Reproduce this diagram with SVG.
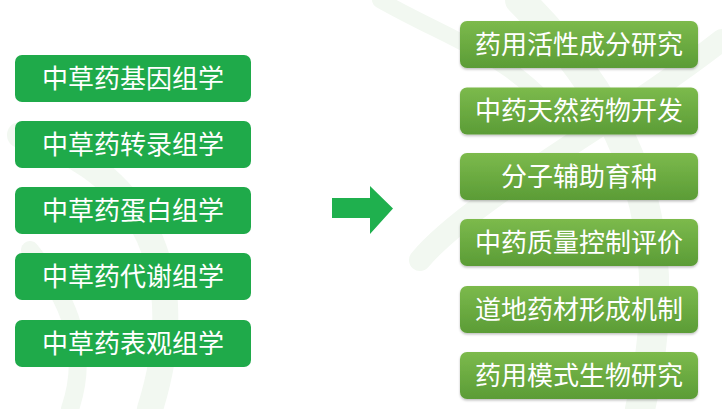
<svg xmlns="http://www.w3.org/2000/svg" width="722" height="409" viewBox="0 0 722 409">
<defs>
<linearGradient id="gR" x1="0" y1="0" x2="0" y2="1">
<stop offset="0" stop-color="#7cba4c"/>
<stop offset="1" stop-color="#5b9c36"/>
</linearGradient>
<filter id="sh" x="-5%" y="-10%" width="110%" height="130%">
<feDropShadow dx="0" dy="1.5" stdDeviation="1.2" flood-color="#000" flood-opacity="0.25"/>
</filter>
<style>
.l{fill:#1faa4a;}
.r{fill:url(#gR);filter:url(#sh);}
.t{font-family:"Noto Sans CJK SC","Noto Sans",sans-serif;font-size:26px;fill:#fff;text-anchor:middle;}
.wm{fill:none;stroke:#f2f8f1;stroke-linecap:round;}
</style>
</defs>
<rect width="722" height="409" fill="#fff"/>
<g id="watermark">
<path class="wm" stroke-width="26" d="M20 135 C120 160 200 250 150 409"/>
<path class="wm" stroke-width="18" d="M30 250 C70 300 90 350 70 409"/>
<path class="wm" stroke-width="30" d="M520 0 C600 80 690 200 640 409"/>
<path class="wm" stroke-width="22" d="M722 40 C620 120 470 200 420 260"/>
<path class="wm" stroke-width="16" d="M380 0 C450 40 520 60 560 120"/>
</g>
<g id="left">
<g id="n1"><rect class="l" x="15" y="55" width="236" height="47" rx="7"/><text class="t" x="133" y="87.5">中草药基因组学</text></g>
<g id="n2"><rect class="l" x="15" y="121" width="236" height="47" rx="7"/><text class="t" x="133" y="153.5">中草药转录组学</text></g>
<g id="n3"><rect class="l" x="15" y="187" width="236" height="47" rx="7"/><text class="t" x="133" y="219.5">中草药蛋白组学</text></g>
<g id="n4"><rect class="l" x="15" y="253" width="236" height="47" rx="7"/><text class="t" x="133" y="285.5">中草药代谢组学</text></g>
<g id="n5"><rect class="l" x="15" y="320" width="236" height="47" rx="7"/><text class="t" x="133" y="352.5">中草药表观组学</text></g>
</g>
<g id="connectors">
<polygon fill="#1fb04e" points="332,198 370,198 370,186 393,208.5 370,234 370,218 332,218"/>
</g>
<g id="right">
<g id="m1"><rect class="r" x="460" y="21" width="238" height="47" rx="7"/><text class="t" x="579" y="53.5">药用活性成分研究</text></g>
<g id="m2"><rect class="r" x="460" y="87.5" width="238" height="47" rx="7"/><text class="t" x="579" y="120">中药天然药物开发</text></g>
<g id="m3"><rect class="r" x="460" y="153" width="238" height="47" rx="7"/><text class="t" x="579" y="185.5">分子辅助育种</text></g>
<g id="m4"><rect class="r" x="460" y="219" width="238" height="47" rx="7"/><text class="t" x="579" y="251.5">中药质量控制评价</text></g>
<g id="m5"><rect class="r" x="460" y="286" width="238" height="47" rx="7"/><text class="t" x="579" y="318.5">道地药材形成机制</text></g>
<g id="m6"><rect class="r" x="460" y="352" width="238" height="47" rx="7"/><text class="t" x="579" y="384.5">药用模式生物研究</text></g>
</g>
</svg>
